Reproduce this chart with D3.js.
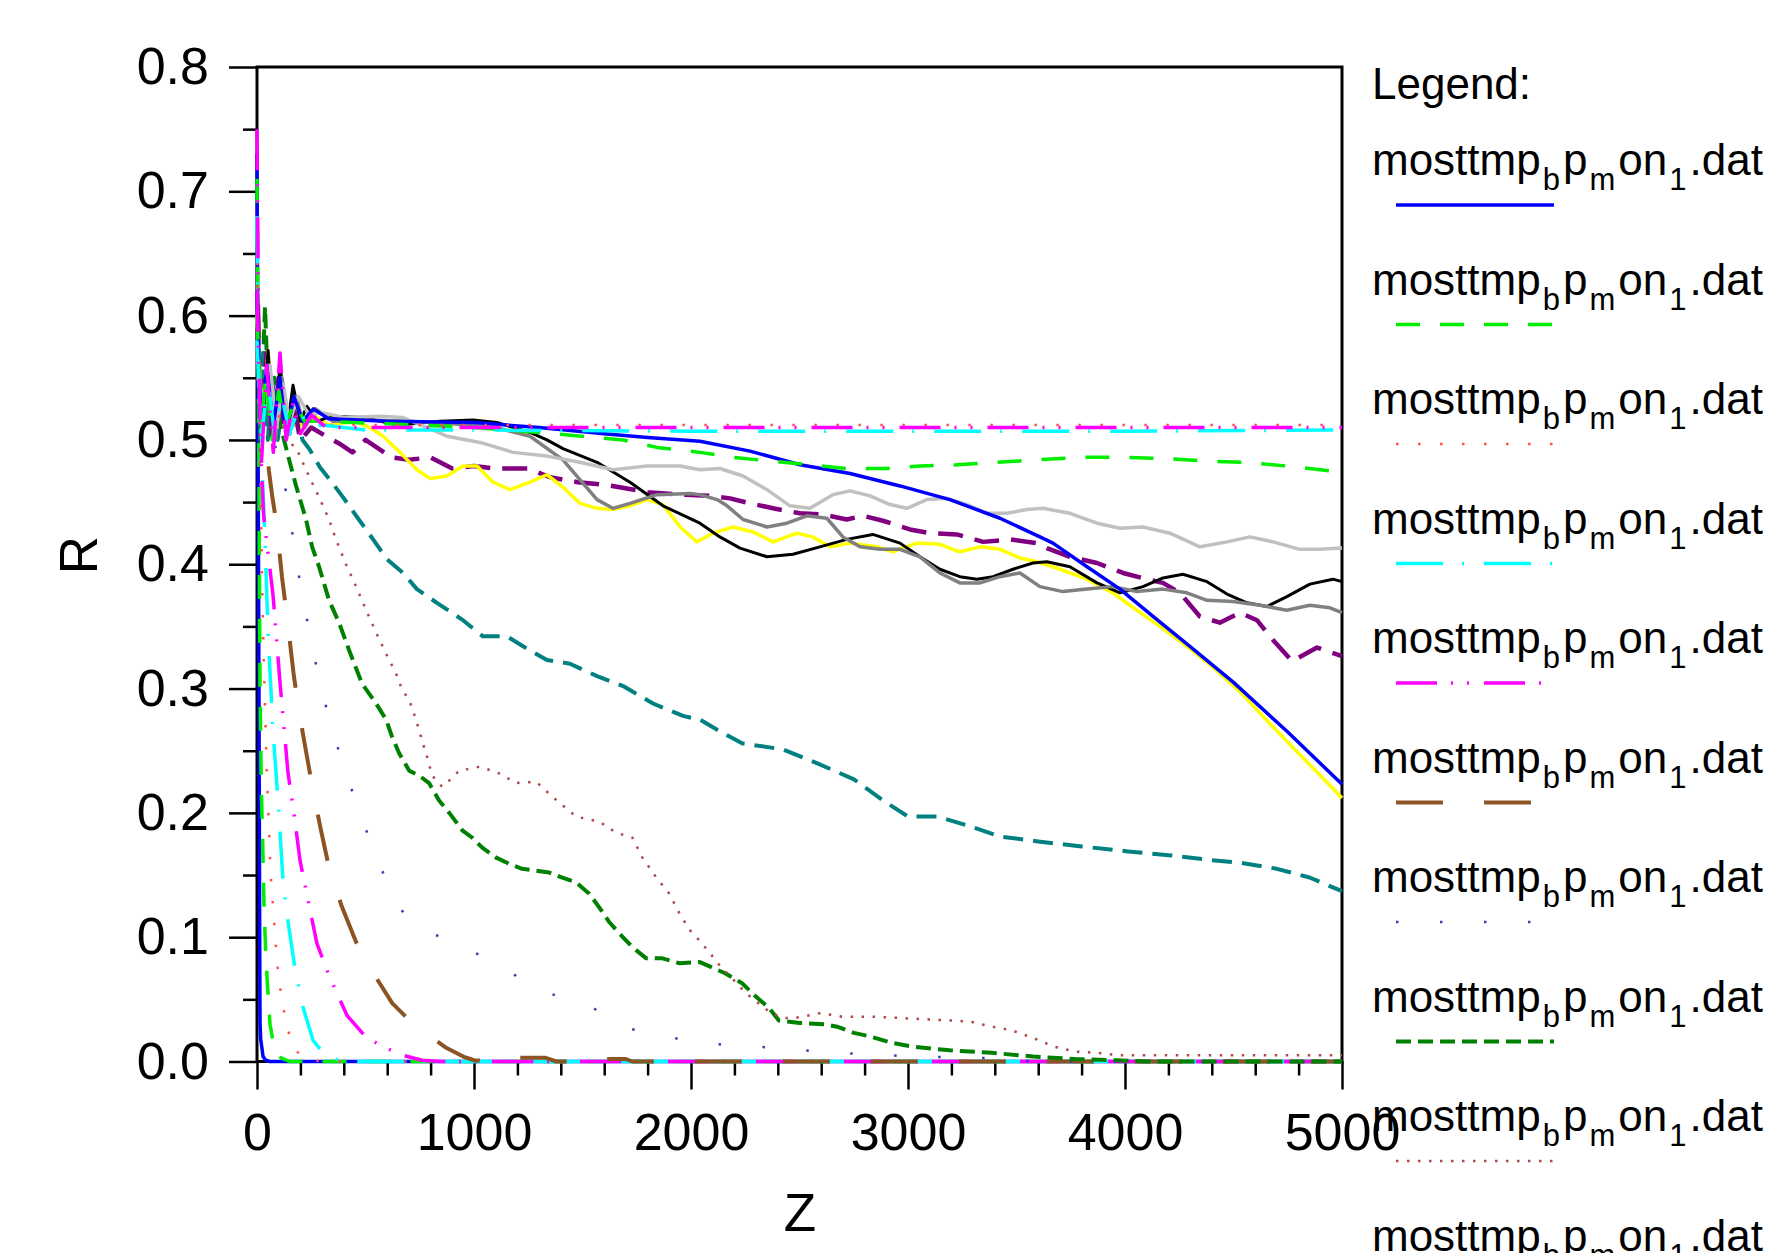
<!DOCTYPE html>
<meta charset="utf-8">

<!-- Load d3.js -->
<script src="https://d3js.org/d3.v7.min.js"></script>

<style>
  body { margin: 0; background: #fff; }
  text { font-family: "Liberation Sans", Arial, sans-serif; }
</style>

<div id="my_dataviz"></div>

<script>

// ---- data: [Z, R] pairs ----
var blueFast = [[0,0.73],[3,0.6],[6,0.45],[9,0.3],[12,0.12],[14,0.031],[17,0.018],[28,0.004],[40,0.001],[60,0],[5000,0]];
var greenFast = [[0,0.71],[4,0.6],[8,0.5],[11,0.4],[14,0.3],[20,0.22],[27,0.17],[33,0.12],[40,0.09],[47,0.065],[60,0.03],[80,0.01],[110,0.003],[150,0],[5000,0]];
var redFast = [[0,0.66],[8,0.55],[15,0.48],[22,0.4],[30,0.33],[38,0.28],[45,0.23],[55,0.19],[63,0.15],[78,0.115],[92,0.08],[115,0.048],[157,0.015],[194,0.006],[250,0.001],[300,0],[5000,0]];
var cyanFast = [[0,0.68],[8,0.56],[15,0.5],[25,0.47],[35,0.43],[46,0.37],[58,0.32],[74,0.265],[97,0.21],[120,0.145],[145,0.11],[175,0.075],[210,0.045],[258,0.017],[300,0.008],[340,0.003],[400,0],[5000,0]];
var magentaFast = [[0,0.75],[6,0.62],[12,0.53],[20,0.48],[30,0.44],[50,0.41],[74,0.375],[106,0.305],[143,0.232],[170,0.2],[198,0.162],[235,0.13],[276,0.095],[330,0.07],[415,0.037],[500,0.02],[580,0.012],[673,0.005],[760,0.001],[850,0],[5000,0]];
var brownFast = [[0,0.62],[20,0.55],[40,0.51],[55,0.475],[70,0.455],[92,0.43],[115,0.39],[138,0.358],[170,0.31],[200,0.275],[254,0.222],[290,0.19],[332,0.156],[390,0.125],[457,0.096],[540,0.07],[623,0.047],[720,0.03],[800,0.02],[872,0.011],[950,0.004],[1000,0.001],[1100,0],[1160,0.003],[1330,0.003],[1380,0],[1590,0],[1620,0.002],[1700,0.002],[1730,0],[5000,0]];
var navyDots = [[0,0.6],[30,0.53],[60,0.51],[111,0.478],[143,0.45],[171,0.415],[203,0.38],[240,0.347],[277,0.315],[323,0.282],[378,0.249],[434,0.22],[494,0.19],[563,0.16],[623,0.132],[720,0.109],[849,0.1],[969,0.09],[1130,0.078],[1254,0.06],[1397,0.052],[1550,0.043],[1688,0.027],[1840,0.023],[2007,0.015],[2204,0.013],[2391,0.011],[2590,0.008],[2783,0.006],[2977,0.0044],[3161,0.0036],[3364,0.0028],[3500,0.001],[3600,0],[5000,0]];
var darkGreenDash = [[0,0.6],[15,0.5],[37,0.607],[55,0.52],[80,0.55],[110,0.51],[148,0.484],[180,0.463],[226,0.436],[254,0.414],[286,0.398],[332,0.371],[378,0.353],[424,0.331],[484,0.304],[549,0.288],[595,0.275],[623,0.261],[655,0.248],[701,0.234],[747,0.23],[793,0.224],[839,0.21],[886,0.2],[946,0.186],[992,0.18],[1038,0.172],[1102,0.164],[1162,0.159],[1222,0.155],[1347,0.152],[1407,0.148],[1471,0.144],[1531,0.135],[1577,0.124],[1624,0.112],[1670,0.103],[1730,0.092],[1794,0.083],[1868,0.083],[1947,0.079],[2041,0.08],[2157,0.071],[2235,0.063],[2300,0.052],[2360,0.043],[2405,0.033],[2502,0.031],[2617,0.03],[2673,0.028],[2751,0.023],[2829,0.02],[2926,0.015],[3018,0.012],[3193,0.009],[3387,0.007],[3576,0.004],[3769,0.002],[3963,0.001],[4100,0],[5000,0]];
var wineDots = [[0,0.58],[20,0.5],[40,0.56],[70,0.51],[100,0.53],[130,0.5],[180,0.494],[231,0.474],[286,0.454],[332,0.436],[364,0.42],[410,0.4],[457,0.382],[503,0.363],[549,0.345],[595,0.328],[641,0.312],[669,0.299],[701,0.291],[733,0.275],[761,0.258],[784,0.245],[807,0.23],[853,0.221],[886,0.226],[932,0.234],[1024,0.237],[1102,0.233],[1195,0.224],[1287,0.225],[1361,0.213],[1471,0.197],[1577,0.193],[1656,0.184],[1730,0.18],[1776,0.164],[1840,0.148],[1900,0.135],[1947,0.119],[1993,0.106],[2041,0.097],[2088,0.087],[2138,0.076],[2194,0.066],[2253,0.055],[2310,0.047],[2369,0.039],[2424,0.035],[2480,0.035],[2599,0.039],[2696,0.036],[2848,0.036],[2963,0.035],[3078,0.034],[3193,0.033],[3290,0.032],[3387,0.028],[3479,0.025],[3576,0.019],[3672,0.012],[3769,0.008],[3866,0.007],[3981,0.005],[4500,0.005],[5000,0.005]];
var tealDash = [[0,0.62],[15,0.52],[30,0.57],[50,0.5],[70,0.55],[95,0.5],[120,0.53],[150,0.505],[180,0.52],[210,0.5],[244,0.492],[290,0.478],[336,0.468],[396,0.454],[461,0.438],[535,0.42],[599,0.404],[673,0.393],[737,0.38],[829,0.369],[949,0.355],[1041,0.342],[1152,0.342],[1226,0.334],[1336,0.323],[1442,0.32],[1567,0.31],[1687,0.302],[1765,0.294],[1825,0.288],[1963,0.278],[2041,0.275],[2119,0.267],[2235,0.256],[2424,0.251],[2580,0.24],[2751,0.227],[2885,0.21],[3000,0.197],[3138,0.197],[3290,0.189],[3424,0.181],[3600,0.177],[3800,0.173],[4013,0.169],[4200,0.166],[4400,0.162],[4530,0.16],[4700,0.155],[4850,0.148],[5000,0.137]];
var purpleDash = [[0,0.6],[20,0.52],[45,0.57],[70,0.5],[100,0.55],[130,0.505],[165,0.53],[200,0.5],[250,0.51],[318,0.503],[380,0.497],[440,0.49],[500,0.5],[560,0.493],[620,0.486],[700,0.484],[800,0.486],[900,0.477],[1000,0.479],[1100,0.477],[1250,0.477],[1350,0.47],[1480,0.466],[1600,0.464],[1800,0.458],[1950,0.456],[2087,0.455],[2180,0.453],[2272,0.449],[2378,0.445],[2502,0.441],[2608,0.44],[2718,0.436],[2792,0.439],[2884,0.435],[3009,0.428],[3101,0.425],[3225,0.424],[3346,0.418],[3470,0.42],[3594,0.417],[3640,0.413],[3746,0.406],[3871,0.401],[3991,0.393],[4101,0.388],[4175,0.385],[4253,0.377],[4345,0.358],[4437,0.353],[4530,0.361],[4608,0.355],[4682,0.339],[4770,0.322],[4885,0.333],[5000,0.326]];
var yellowLine = [[0,0.6],[25,0.51],[51,0.572],[80,0.5],[110,0.55],[140,0.505],[175,0.535],[210,0.51],[260,0.52],[330,0.512],[450,0.515],[520,0.51],[581,0.503],[659,0.49],[737,0.476],[797,0.469],[875,0.471],[949,0.479],[1014,0.479],[1088,0.466],[1166,0.46],[1258,0.466],[1336,0.472],[1410,0.462],[1488,0.449],[1567,0.445],[1640,0.444],[1719,0.447],[1797,0.452],[1871,0.448],[1950,0.43],[2027,0.418],[2101,0.425],[2194,0.43],[2286,0.426],[2378,0.418],[2488,0.425],[2562,0.422],[2640,0.414],[2733,0.417],[2857,0.414],[2930,0.41],[3041,0.417],[3147,0.416],[3239,0.41],[3332,0.414],[3424,0.412],[3516,0.405],[3594,0.402],[3668,0.398],[3825,0.388],[3944,0.377],[4055,0.363],[4161,0.35],[4285,0.334],[4400,0.318],[4538,0.296],[4650,0.275],[4788,0.25],[4900,0.23],[5000,0.212]];
var blackLine = [[0,0.6],[20,0.5],[51,0.572],[80,0.5],[106,0.56],[140,0.51],[166,0.544],[200,0.515],[230,0.527],[280,0.515],[336,0.519],[488,0.518],[650,0.512],[843,0.515],[995,0.516],[1106,0.514],[1258,0.506],[1336,0.5],[1410,0.493],[1567,0.482],[1719,0.466],[1871,0.447],[2041,0.433],[2133,0.422],[2226,0.413],[2350,0.406],[2470,0.408],[2594,0.414],[2718,0.42],[2838,0.424],[2963,0.417],[3055,0.406],[3147,0.396],[3239,0.39],[3318,0.388],[3392,0.39],[3484,0.396],[3576,0.401],[3640,0.402],[3746,0.398],[3871,0.385],[3977,0.377],[4083,0.382],[4175,0.389],[4267,0.392],[4378,0.386],[4470,0.376],[4562,0.369],[4654,0.366],[4746,0.374],[4852,0.384],[4958,0.388],[5000,0.386]];
var grayLine = [[0,0.6],[20,0.52],[55,0.56],[85,0.5],[115,0.55],[145,0.51],[180,0.535],[220,0.51],[270,0.525],[350,0.515],[500,0.516],[700,0.515],[900,0.513],[1100,0.51],[1258,0.503],[1410,0.484],[1488,0.468],[1567,0.452],[1640,0.445],[1719,0.449],[1843,0.456],[1995,0.457],[2041,0.456],[2120,0.452],[2166,0.447],[2240,0.436],[2350,0.43],[2442,0.433],[2534,0.439],[2626,0.437],[2700,0.422],[2779,0.414],[2871,0.412],[2963,0.412],[3055,0.406],[3147,0.393],[3239,0.385],[3332,0.385],[3424,0.39],[3516,0.393],[3608,0.382],[3714,0.378],[3825,0.38],[3944,0.382],[4055,0.378],[4175,0.38],[4285,0.377],[4378,0.371],[4498,0.37],[4622,0.367],[4746,0.363],[4852,0.367],[4944,0.365],[5000,0.361]];
var lightGrayLine = [[0,0.6],[20,0.53],[60,0.56],[90,0.51],[120,0.545],[150,0.515],[190,0.535],[240,0.52],[300,0.522],[400,0.518],[567,0.519],[673,0.518],[780,0.51],[875,0.503],[1028,0.498],[1180,0.49],[1336,0.487],[1488,0.482],[1640,0.476],[1797,0.479],[1949,0.479],[2041,0.476],[2133,0.477],[2240,0.471],[2350,0.46],[2456,0.447],[2548,0.445],[2654,0.456],[2733,0.459],[2825,0.455],[2917,0.448],[2995,0.445],[3087,0.452],[3180,0.453],[3272,0.448],[3364,0.441],[3456,0.441],[3548,0.444],[3622,0.445],[3746,0.441],[3871,0.433],[3977,0.429],[4083,0.43],[4207,0.425],[4345,0.414],[4470,0.418],[4576,0.422],[4682,0.418],[4806,0.412],[4898,0.412],[5000,0.413]];
var blueSlow = [[0,0.62],[20,0.5],[45,0.56],[75,0.51],[105,0.55],[135,0.505],[170,0.535],[210,0.515],[260,0.525],[330,0.517],[600,0.515],[1000,0.514],[1300,0.51],[1600,0.505],[1800,0.502],[2041,0.499],[2272,0.491],[2502,0.48],[2733,0.473],[2963,0.463],[3193,0.452],[3424,0.437],[3608,0.422],[3668,0.417],[3825,0.398],[3977,0.38],[4129,0.358],[4299,0.334],[4500,0.305],[4750,0.265],[5000,0.223]];
var greenSlow = [[0,0.6],[20,0.51],[40,0.55],[70,0.5],[100,0.54],[130,0.51],[170,0.53],[220,0.515],[300,0.515],[600,0.513],[1000,0.51],[1300,0.506],[1687,0.5],[1843,0.494],[2041,0.49],[2194,0.486],[2364,0.483],[2548,0.48],[2718,0.477],[2902,0.477],[3055,0.479],[3225,0.48],[3410,0.482],[3594,0.484],[3792,0.486],[4008,0.486],[4193,0.485],[4378,0.483],[4562,0.482],[4746,0.479],[5000,0.474]];
var redSlow = [[0,0.55],[20,0.5],[50,0.55],[80,0.505],[120,0.53],[160,0.51],[220,0.52],[300,0.512],[1000,0.512],[2000,0.512],[3000,0.512],[4000,0.512],[5000,0.512]];
var cyanSlow = [[0,0.58],[20,0.5],[50,0.55],[80,0.505],[115,0.535],[150,0.505],[190,0.525],[240,0.51],[300,0.512],[500,0.508],[1000,0.508],[2000,0.507],[3000,0.507],[4000,0.507],[5000,0.508]];
var magentaSlow = [[0,0.62],[20,0.48],[45,0.56],[75,0.49],[106,0.57],[135,0.5],[166,0.53],[200,0.505],[250,0.52],[320,0.51],[600,0.51],[1500,0.51],[3000,0.51],[5000,0.51]];

var xMajor = [0, 1000, 2000, 3000, 4000, 5000];
var xMinor = [200, 400, 600, 800, 1200, 1400, 1600, 1800, 2200, 2400, 2600, 2800, 3200, 3400, 3600, 3800, 4200, 4400, 4600, 4800];
var yMajor = [0, 0.1, 0.2, 0.3, 0.4, 0.5, 0.6, 0.7, 0.8];
var yMinor = [0.05, 0.15, 0.25, 0.35, 0.45, 0.55, 0.65, 0.75];
var legendCount = 10;

// ---- styles (one per series, same order the curves are drawn) ----
var styles = [
  {data: blueFast,      color: "#0000ff", width: 3.5, dash: null},
  {data: greenFast,     color: "#00ee00", width: 3.5, dash: "24,20"},
  {data: redFast,       color: "#ff5050", width: 2.5, dash: "2.5,19.5"},
  {data: cyanFast,      color: "#00ffff", width: 3.5, dash: "47,19,2,20"},
  {data: magentaFast,   color: "#ff00ff", width: 3.5, dash: "41,14,2,14,2,15"},
  {data: brownFast,     color: "#8c5423", width: 4,   dash: "47,41"},
  {data: navyDots,      color: "#3a3ab8", width: 2.5, dash: "2.5,41.5"},
  {data: darkGreenDash, color: "#008000", width: 4,   dash: "15,7"},
  {data: wineDots,      color: "#b04848", width: 2.5, dash: "2.5,8.5"},
  {data: tealDash,      color: "#008080", width: 4,   dash: "20,10"},
  {data: purpleDash,    color: "#800080", width: 4.5, dash: "25,12"},
  {data: yellowLine,    color: "#ffff00", width: 3.5, dash: null},
  {data: blackLine,     color: "#000000", width: 3,   dash: null},
  {data: grayLine,      color: "#808080", width: 3.5, dash: null},
  {data: lightGrayLine, color: "#c0c0c0", width: 3.5, dash: null},
  {data: blueSlow,      color: "#0000ff", width: 3.5, dash: null},
  {data: greenSlow,     color: "#00ee00", width: 3.5, dash: "24,20"},
  {data: redSlow,       color: "#ff5050", width: 2.5, dash: "2.5,19.5"},
  {data: cyanSlow,      color: "#00ffff", width: 3.5, dash: "47,19,2,20"},
  {data: magentaSlow,   color: "#ff00ff", width: 3.5, dash: "41,14,2,14,2,15"}
];

// set the dimensions and margins of the graph
var margin = {top: 67, left: 257},
  width = 1085,
  height = 994.5;

var svg = d3.select("#my_dataviz")
  .append("svg")
    .attr("width", 1768)
    .attr("height", 1253)
  .append("g")
    .attr("transform", "translate(" + margin.left + "," + margin.top + ")");

var x = d3.scaleLinear().domain([0, 5000]).range([0, width]);
var y = d3.scaleLinear().domain([0, 0.8]).range([height, 0]);

// minor ticks first, then major ticks with labels
svg.append("g")
  .attr("transform", "translate(0," + height + ")")
  .call(d3.axisBottom(x).tickValues(xMinor).tickSize(14).tickFormat(""))
  .call(function(g) { g.select(".domain").remove(); });
svg.append("g")
  .attr("transform", "translate(0," + height + ")")
  .call(d3.axisBottom(x).tickValues(xMajor).tickSize(28).tickPadding(24).tickFormat(d3.format("d")))
  .call(function(g) { g.select(".domain").remove(); });
svg.append("g")
  .call(d3.axisLeft(y).tickValues(yMinor).tickSize(14).tickFormat(""))
  .call(function(g) { g.select(".domain").remove(); });
svg.append("g")
  .call(d3.axisLeft(y).tickValues(yMajor).tickSize(28).tickPadding(20).tickFormat(d3.format(".1f")))
  .call(function(g) { g.select(".domain").remove(); });

svg.selectAll(".tick line").attr("stroke", "#000").attr("stroke-width", 2.5);
svg.selectAll(".tick text").style("font-size", "52px").attr("fill", "#000");

// frame
svg.append("rect")
  .attr("x", 0).attr("y", 0)
  .attr("width", width).attr("height", height)
  .attr("fill", "none")
  .attr("stroke", "#000")
  .attr("stroke-width", 3);

// curves
var line = d3.line()
  .x(function(d) { return x(d[0]); })
  .y(function(d) { return y(d[1]); });

svg.selectAll(".curve")
  .data(styles)
  .enter()
  .append("path")
    .attr("class", "curve")
    .attr("d", function(d) { return line(d.data); })
    .attr("fill", "none")
    .attr("stroke", function(d) { return d.color; })
    .attr("stroke-width", function(d) { return d.width; })
    .attr("stroke-dasharray", function(d) { return d.dash; })
    .attr("stroke-linejoin", "round");

// axis titles
svg.append("text")
  .attr("x", 543)
  .attr("y", 1164)
  .attr("text-anchor", "middle")
  .style("font-size", "53px")
  .text("Z");

svg.append("text")
  .attr("transform", "translate(-160,488) rotate(-90)")
  .attr("text-anchor", "middle")
  .style("font-size", "53px")
  .text("R");

// legend
var legend = d3.select("svg").append("g");

legend.append("text")
  .attr("x", 1372)
  .attr("y", 99)
  .style("font-size", "44px")
  .text("Legend:");

var items = legend.selectAll(".item")
  .data(styles.slice(0, legendCount))
  .enter()
  .append("g")
    .attr("class", "item")
    .attr("transform", function(d, i) { return "translate(0," + (i * 119.5) + ")"; });

var label = items.append("text")
  .attr("x", 1372)
  .attr("y", 175)
  .style("font-size", "44px");
label.append("tspan").text("mosttmp");
label.append("tspan").attr("dx", 2).attr("dy", 15).style("font-size", "31px").text("b");
label.append("tspan").attr("dx", 3).attr("dy", -15).text("p");
label.append("tspan").attr("dx", 2).attr("dy", 15).style("font-size", "31px").text("m");
label.append("tspan").attr("dx", 3).attr("dy", -15).text("on");
label.append("tspan").attr("dx", 2).attr("dy", 15).style("font-size", "31px").text("1");
label.append("tspan").attr("dx", 3).attr("dy", -15).text(".dat");

items.append("line")
  .attr("x1", 1396).attr("x2", 1554)
  .attr("y1", 205).attr("y2", 205)
  .attr("stroke", function(d) { return d.color; })
  .attr("stroke-width", function(d) { return d.width; })
  .attr("stroke-dasharray", function(d) { return d.dash; });

</script>
